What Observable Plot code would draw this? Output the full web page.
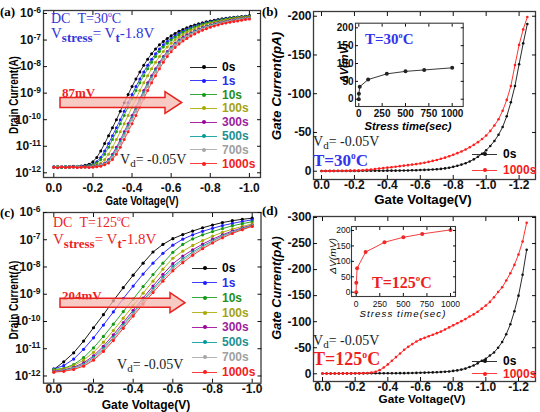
<!DOCTYPE html>
<html>
<head>
<meta charset="utf-8">
<script src="https://cdn.jsdelivr.net/npm/d3@7"></script>
<script src="https://cdn.jsdelivr.net/npm/@observablehq/plot@0.6"></script>
<style>
  html,body{margin:0;padding:0;background:#fff;}
  #fig{position:relative;width:540px;height:412px;overflow:hidden;background:#fff;}
  #fig svg{position:absolute;}
  .t{position:absolute;white-space:nowrap;line-height:1;}
  .serif{font-family:"Liberation Serif","Times New Roman",serif;}
  .sans{font-family:"Liberation Sans",Arial,sans-serif;font-weight:bold;}
  .sb{position:relative;top:0.3em;}
  .sp{font-size:0.55em;position:relative;top:-0.75em;}
</style>
</head>
<body>
<div id="fig"></div>
<script>
// ---------------- DATA ----------------
const stressLabels = ["0s","1s","10s","100s","300s","500s","700s","1000s"];
const seriesColors = ["#000000","#1c1cff","#139a13","#a8a800","#9a009a","#009a9a","#a6a6a6","#ff1c1c"];
const legendColors = ["#000000","#2b2bf0","#1f8f1f","#a3a314","#9b1f9b","#1f8f8f","#a0a0a0","#f52020"];

// Panel (a): gate voltage (V) and log10 drain current (A), T = 30 C
const vgA = [0,-0.02,-0.04,-0.06,-0.08,-0.1,-0.12,-0.14,-0.16,-0.18,-0.2,-0.22,-0.24,-0.26,-0.28,-0.3,-0.32,-0.34,-0.36,-0.38,-0.4,-0.42,-0.44,-0.46,-0.48,-0.5,-0.52,-0.54,-0.56,-0.58,-0.6,-0.62,-0.64,-0.66,-0.68,-0.7,-0.72,-0.74,-0.76,-0.78,-0.8,-0.82,-0.84,-0.86,-0.88,-0.9,-0.92,-0.94,-0.96,-0.98,-1];
const logIdA_0s = [-11.78,-11.76,-11.79,-11.77,-11.76,-11.75,-11.76,-11.74,-11.72,-11.68,-11.58,-11.42,-11.18,-10.90,-10.60,-10.30,-10.00,-9.68,-9.36,-9.05,-8.75,-8.47,-8.20,-7.95,-7.72,-7.52,-7.34,-7.18,-7.05,-6.94,-6.84,-6.75,-6.67,-6.60,-6.54,-6.48,-6.43,-6.39,-6.35,-6.31,-6.28,-6.25,-6.23,-6.20,-6.18,-6.16,-6.14,-6.13,-6.11,-6.10,-6.08];
const logIdA_1s = [-11.77,-11.79,-11.77,-11.78,-11.76,-11.77,-11.75,-11.76,-11.74,-11.72,-11.68,-11.58,-11.42,-11.18,-10.90,-10.60,-10.30,-10.00,-9.68,-9.36,-9.05,-8.75,-8.47,-8.20,-7.95,-7.72,-7.52,-7.34,-7.18,-7.05,-6.94,-6.84,-6.75,-6.67,-6.60,-6.54,-6.48,-6.43,-6.39,-6.35,-6.31,-6.28,-6.25,-6.23,-6.20,-6.18,-6.16,-6.14,-6.13,-6.11,-6.10];
const logIdA_10s = [-11.78,-11.77,-11.79,-11.76,-11.78,-11.77,-11.76,-11.77,-11.75,-11.73,-11.70,-11.63,-11.50,-11.30,-11.04,-10.75,-10.45,-10.15,-9.84,-9.52,-9.21,-8.90,-8.61,-8.34,-8.08,-7.84,-7.62,-7.43,-7.26,-7.12,-7.00,-6.89,-6.80,-6.71,-6.64,-6.57,-6.51,-6.46,-6.41,-6.37,-6.33,-6.30,-6.27,-6.24,-6.22,-6.19,-6.17,-6.15,-6.14,-6.12,-6.11];
const logIdA_100s = [-11.79,-11.77,-11.78,-11.80,-11.77,-11.78,-11.76,-11.78,-11.77,-11.75,-11.73,-11.70,-11.63,-11.50,-11.30,-11.04,-10.75,-10.45,-10.15,-9.84,-9.52,-9.21,-8.90,-8.61,-8.34,-8.08,-7.84,-7.62,-7.43,-7.26,-7.12,-7.00,-6.89,-6.80,-6.71,-6.64,-6.57,-6.51,-6.46,-6.41,-6.37,-6.33,-6.30,-6.27,-6.24,-6.22,-6.19,-6.17,-6.15,-6.14,-6.12];
const logIdA_300s = [-11.78,-11.80,-11.77,-11.79,-11.78,-11.77,-11.79,-11.77,-11.78,-11.76,-11.75,-11.73,-11.70,-11.63,-11.50,-11.30,-11.04,-10.75,-10.45,-10.15,-9.84,-9.52,-9.21,-8.90,-8.61,-8.34,-8.08,-7.84,-7.62,-7.43,-7.26,-7.12,-7.00,-6.89,-6.80,-6.73,-6.66,-6.59,-6.53,-6.48,-6.43,-6.39,-6.35,-6.32,-6.29,-6.26,-6.24,-6.21,-6.19,-6.17,-6.16];
const logIdA_500s = [-11.79,-11.78,-11.80,-11.77,-11.79,-11.78,-11.76,-11.78,-11.79,-11.77,-11.76,-11.74,-11.71,-11.66,-11.54,-11.36,-11.11,-10.83,-10.53,-10.23,-9.92,-9.60,-9.29,-8.98,-8.68,-8.41,-8.14,-7.90,-7.67,-7.48,-7.30,-7.16,-7.04,-6.94,-6.85,-6.76,-6.69,-6.62,-6.56,-6.50,-6.45,-6.41,-6.37,-6.34,-6.31,-6.28,-6.26,-6.23,-6.21,-6.19,-6.17];
const logIdA_700s = [-11.78,-11.79,-11.77,-11.80,-11.78,-11.79,-11.77,-11.78,-11.80,-11.78,-11.77,-11.76,-11.72,-11.68,-11.58,-11.42,-11.18,-10.90,-10.60,-10.30,-10.00,-9.68,-9.36,-9.05,-8.75,-8.47,-8.20,-7.95,-7.72,-7.52,-7.34,-7.19,-7.07,-6.96,-6.87,-6.79,-6.71,-6.64,-6.58,-6.52,-6.47,-6.43,-6.39,-6.35,-6.32,-6.29,-6.27,-6.24,-6.22,-6.20,-6.18];
const logIdA_1000s = [-11.79,-11.81,-11.78,-11.80,-11.79,-11.78,-11.80,-11.79,-11.78,-11.80,-11.79,-11.77,-11.75,-11.70,-11.63,-11.50,-11.30,-11.04,-10.75,-10.45,-10.15,-9.84,-9.52,-9.21,-8.90,-8.61,-8.34,-8.08,-7.84,-7.62,-7.44,-7.28,-7.15,-7.04,-6.94,-6.85,-6.77,-6.70,-6.63,-6.57,-6.52,-6.47,-6.43,-6.39,-6.36,-6.33,-6.30,-6.28,-6.25,-6.23,-6.21];

// Panel (c): gate voltage (V) and log10 drain current (A), T = 125 C
const vgC = [0,-0.05,-0.1,-0.15,-0.2,-0.25,-0.3,-0.35,-0.4,-0.45,-0.5,-0.55,-0.6,-0.65,-0.7,-0.75,-0.8,-0.85,-0.9,-0.95,-1];
const logIdC_0s = [-11.76,-11.48,-11.15,-10.72,-10.23,-9.75,-9.24,-8.76,-8.30,-7.86,-7.45,-7.17,-6.96,-6.81,-6.68,-6.56,-6.46,-6.37,-6.30,-6.25,-6.21];
const logIdC_1s = [-11.74,-11.62,-11.38,-11.02,-10.60,-10.13,-9.65,-9.16,-8.70,-8.26,-7.86,-7.50,-7.20,-6.98,-6.82,-6.69,-6.58,-6.48,-6.40,-6.33,-6.27];
const logIdC_10s = [-11.76,-11.72,-11.58,-11.33,-10.97,-10.55,-10.10,-9.64,-9.18,-8.72,-8.28,-7.86,-7.46,-7.17,-6.97,-6.82,-6.70,-6.59,-6.49,-6.41,-6.34];
const logIdC_100s = [-11.79,-11.74,-11.62,-11.42,-11.13,-10.76,-10.33,-9.88,-9.42,-8.96,-8.52,-8.08,-7.68,-7.42,-7.21,-7.03,-6.87,-6.73,-6.61,-6.51,-6.42];
const logIdC_300s = [-11.82,-11.78,-11.68,-11.52,-11.26,-10.91,-10.49,-10.04,-9.59,-9.14,-8.70,-8.27,-7.88,-7.60,-7.37,-7.16,-6.98,-6.82,-6.68,-6.56,-6.46];
const logIdC_500s = [-11.84,-11.80,-11.71,-11.57,-11.32,-10.99,-10.58,-10.13,-9.68,-9.23,-8.80,-8.38,-7.99,-7.70,-7.45,-7.23,-7.04,-6.86,-6.72,-6.59,-6.48];
const logIdC_700s = [-11.85,-11.81,-11.73,-11.60,-11.37,-11.04,-10.63,-10.18,-9.73,-9.29,-8.86,-8.44,-8.06,-7.76,-7.51,-7.28,-7.08,-6.89,-6.74,-6.61,-6.49];
const logIdC_1000s = [-11.86,-11.83,-11.76,-11.64,-11.42,-11.10,-10.70,-10.25,-9.80,-9.36,-8.94,-8.52,-8.14,-7.84,-7.57,-7.33,-7.12,-6.93,-6.77,-6.63,-6.51];

// Panels (b) and (d): gate voltage (V) and gate current (pA)
const vgBD = [0,-0.025,-0.05,-0.075,-0.1,-0.125,-0.15,-0.175,-0.2,-0.225,-0.25,-0.275,-0.3,-0.325,-0.35,-0.375,-0.4,-0.425,-0.45,-0.475,-0.5,-0.525,-0.55,-0.575,-0.6,-0.625,-0.65,-0.675,-0.7,-0.725,-0.75,-0.775,-0.8,-0.825,-0.85,-0.875,-0.9,-0.925,-0.95,-0.975,-1,-1.025,-1.05,-1.075,-1.1,-1.125,-1.15,-1.175,-1.2,-1.225,-1.25];
const igB_0s = [-0.2,-0.2,-0.2,-0.3,-0.3,-0.3,-0.3,-0.4,-0.4,-0.4,-0.5,-0.5,-0.5,-0.6,-0.6,-0.6,-0.7,-0.7,-0.7,-0.8,-0.9,-1.0,-1.2,-1.3,-1.5,-1.7,-1.9,-2.2,-2.5,-3.0,-3.6,-4.5,-5.6,-7.0,-8.5,-10.3,-12.6,-15.3,-18.6,-22.5,-27,-32.5,-39,-47,-57,-71,-89,-110,-138,-165,-190];
const igB_1000s = [-0.3,-0.3,-0.4,-0.4,-0.5,-0.5,-0.6,-0.7,-0.8,-1.0,-1.3,-1.7,-2.2,-2.8,-3.4,-4.0,-4.6,-5.2,-5.8,-6.5,-7.2,-7.8,-8.5,-9.2,-10,-11,-12,-13.3,-14.5,-16,-17.5,-19.3,-21.2,-23.3,-25.5,-28,-31,-34,-37.5,-41.5,-46,-52,-59,-67,-78,-92,-110,-137,-163,-183,-199];
const igD_0s = [-0.5,-0.5,-0.6,-0.6,-0.6,-0.7,-0.7,-0.7,-0.8,-0.8,-0.8,-0.9,-0.9,-0.9,-1.0,-1.0,-1.0,-1.1,-1.1,-1.2,-1.2,-1.3,-1.5,-1.7,-2.0,-2.2,-2.5,-2.7,-3.0,-3.5,-4.0,-4.5,-5.5,-6.5,-8.0,-10,-13,-16,-20,-25,-29,-35,-41,-50,-61,-76,-95,-120,-150,-190,-238];
const igD_1000s = [-0.5,-0.5,-0.5,-0.6,-0.6,-0.7,-0.7,-0.8,-0.9,-1.0,-1.2,-1.6,-2.3,-4,-7,-12,-18,-25,-32,-39,-46,-52,-57,-62,-66,-69,-72,-75,-78,-81,-85,-89,-93,-97,-101,-105,-110,-114,-119,-125,-131,-138,-147,-157,-166,-179,-193,-209,-229,-254,-290];

// Insets: threshold voltage shift (mV) vs stress time (s)
const stressTime = [0,1,10,100,300,500,700,1000];
const dVth30 = [0,15,35,55,71,78,82,88];
const dVth125 = [0,31,78,130,162,178,189,202];

// Tick values
const xTicksIV = [0,-0.2,-0.4,-0.6,-0.8,-1.0];
const xTicksIG = [0,-0.2,-0.4,-0.6,-0.8,-1.0,-1.2];
const yTicksLog = [1e-12,1e-11,1e-10,1e-9,1e-8,1e-7,1e-6];
const yTicksB = [0,-50,-100,-150,-200];
const yTicksD = [0,-50,-100,-150,-200,-250,-300];
const insetXTicks = [0,250,500,750,1000];
const insetYTicks = [0,50,100,150,200];

// ---------------- DRAWING ----------------
const fig = document.getElementById("fig");
const NS = "http://www.w3.org/2000/svg";

function supify(svg, expSize) {
  svg.querySelectorAll("text").forEach(t => {
    const s = t.textContent;
    if (s.includes("^")) {
      const [b, e] = s.split("^");
      t.textContent = "";
      const t1 = document.createElementNS(NS, "tspan"); t1.textContent = b;
      const t2 = document.createElementNS(NS, "tspan"); t2.textContent = e;
      t2.setAttribute("dy", "-0.5em"); t2.setAttribute("font-size", expSize);
      t.append(t1, t2);
    }
  });
}

function panel(o) {
  const marks = [Plot.frame({stroke: "#3a3a3a", strokeWidth: o.fw || 1.3})];
  o.series.forEach((vals, k) => {
    const rows = vals.map((v, i) => ({x: o.xs[i], y: o.log ? 10 ** v : v}));
    marks.push(Plot.line(rows, {x: "x", y: "y", stroke: o.colors[k], strokeWidth: o.lw}));
    marks.push(Plot.dot(rows, {x: "x", y: "y", fill: o.colors[k], r: o.r}));
  });
  marks.push(
    Plot.axisX({ticks: o.xTicks, tickFormat: o.xFmt, tickSize: -o.ts, tickPadding: o.xPad, label: null}),
    Plot.axisX({ticks: o.xTicks, anchor: "top", tickSize: -o.ts, tickFormat: () => "", label: null}),
    Plot.axisY({ticks: o.yTicks, tickFormat: o.yFmt, tickSize: -o.ts, tickPadding: o.yPad, label: null}),
    Plot.axisY({ticks: o.yTicks, anchor: "right", tickSize: -o.ts, tickFormat: () => "", label: null})
  );
  const svg = Plot.plot({
    width: o.w, height: o.h,
    marginLeft: o.m[0], marginTop: o.m[1], marginRight: o.m[2], marginBottom: o.m[3],
    x: {domain: o.xd},
    y: o.log ? {type: "log", domain: o.yd} : {domain: o.yd},
    style: {fontFamily: "'Liberation Sans', Arial, sans-serif", fontSize: o.fs + "px", fontWeight: o.fwt || "bold", color: "#111", background: "transparent", overflow: "visible"},
    marks
  });
  if (o.log) supify(svg, o.expSize || "8.5px");
  svg.style.left = o.left + "px";
  svg.style.top = o.top + "px";
  fig.appendChild(svg);
  return svg;
}

const fmt1 = d => d.toFixed(1);
const fmtLog = d => "10^" + Math.round(Math.log10(d));
const fmtInt = d => String(d);

// (a)  frame: x 43-260, y 10-177
panel({left: 0, top: 0, w: 270, h: 206, m: [43, 10, 10, 29],
  xs: vgA, series: [logIdA_0s, logIdA_1s, logIdA_10s, logIdA_100s, logIdA_300s, logIdA_500s, logIdA_700s, logIdA_1000s],
  colors: seriesColors, log: true, lw: 0.8, r: 1.5, ts: 4, fs: 12,
  xd: [0.0526, -1.0567], yd: [10 ** -12.177, 10 ** -5.887],
  xTicks: xTicksIV, xFmt: fmt1, xPad: 10, yTicks: yTicksLog, yFmt: fmtLog, yPad: 6.5});
// (b)  frame: x 313-535, y 11-179
panel({left: 270, top: 0, w: 270, h: 206, m: [43, 11, 5, 27],
  xs: vgBD, series: [igB_0s, igB_1000s], colors: ["#111111", "#ff1c1c"], lw: 0.9, r: 1.3, ts: 4, fs: 12,
  xd: [0.0487, -1.2996], yd: [10.7, -206.1],
  xTicks: xTicksIG, xFmt: fmt1, xPad: 5, yTicks: yTicksB, yFmt: fmtInt, yPad: 6});
// (c)  frame: x 43-260.5, y 212-382.7
panel({left: 0, top: 206, w: 270, h: 206, m: [43, 6, 9.5, 29.3],
  xs: vgC, series: [logIdC_0s, logIdC_1s, logIdC_10s, logIdC_100s, logIdC_300s, logIdC_500s, logIdC_700s, logIdC_1000s],
  colors: seriesColors, log: true, lw: 0.9, r: 1.6, ts: 4, fs: 12,
  xd: [0.052, -1.0444], yd: [10 ** -12.265, 10 ** -6.0],
  xTicks: xTicksIV, xFmt: fmt1, xPad: 5.5, yTicks: yTicksLog, yFmt: fmtLog, yPad: 7});
// (d)  frame: x 313-535, y 216-381
panel({left: 270, top: 206, w: 270, h: 206, m: [43, 10, 5, 31],
  xs: vgBD, series: [igD_0s, igD_1000s], colors: ["#111111", "#ff1c1c"], lw: 0.9, r: 1.3, ts: 4, fs: 12,
  xd: [0.0551, -1.304], yd: [14.8, -301.9],
  xTicks: xTicksIG, xFmt: fmt1, xPad: 4.5, yTicks: yTicksD, yFmt: fmtInt, yPad: 6});
// inset (b)  frame: x 355-462.7, y 22.7-106
panel({left: 325, top: 15, w: 145, h: 120, m: [30, 7.7, 7.3, 29],
  xs: stressTime, series: [dVth30], colors: ["#222222"], lw: 0.9, r: 2, ts: 3, fs: 10, fw: 1.1,
  xd: [-35.3, 1117.8], yd: [-20.4, 212.9],
  xTicks: insetXTicks, xFmt: fmtInt, xPad: 6, yTicks: insetYTicks, yFmt: fmtInt, yPad: 5});
// inset (d)  frame: x 351-455, y 226-296
panel({left: 322, top: 220, w: 145, h: 100, m: [29, 6, 12, 24],
  xs: stressTime, series: [dVth125], colors: ["#f02828"], lw: 0.9, r: 2, ts: 3, fs: 8.5, fwt: "normal", fw: 1.1,
  xd: [-49.8, 1053], yd: [-13.9, 213],
  xTicks: insetXTicks, xFmt: fmtInt, xPad: 7, yTicks: insetYTicks, yFmt: fmtInt, yPad: 4});

// ---------------- ANNOTATIONS ----------------
function txt(html, x, y, cls, css = {}, center = false) {
  const d = document.createElement("div");
  d.className = "t " + cls;
  d.innerHTML = html;
  Object.assign(d.style, css);
  d.style.left = x + "px"; d.style.top = y + "px";
  fig.appendChild(d);
  d.style.transform = center ? "translate(-50%,-50%)" : "translateY(-50%)";
  return d;
}
function title(html, cx, cy, cls, css, length, rotate) {
  const d = txt(html, cx, cy, cls, css, true);
  const k = length / d.offsetWidth;
  d.style.transform = "translate(-50%,-50%)" + (rotate ? " rotate(-90deg)" : "") + " scaleX(" + k + ")";
  return d;
}
const blue = "#3535d8", red = "#ee1f1f";

// panel labels
txt("(a)", 0, 11, "serif", {fontWeight: "bold", fontSize: "13px"});
txt("(b)", 262, 11, "serif", {fontWeight: "bold", fontSize: "13px"});
txt("(c)", 0, 212, "serif", {fontWeight: "bold", fontSize: "13px"});
txt("(d)", 262, 210, "serif", {fontWeight: "bold", fontSize: "13px"});

// axis titles
title("Gate Voltage(V)", 142, 200.5, "sans", {fontSize: "12px"}, 73, false);
title("Drain Current(A)", 12.5, 95, "sans", {fontSize: "13px"}, 78, true);
title("Gate Voltage(V)", 423, 200, "sans", {fontSize: "12px"}, 97, false);
title("Gate Current(pA)", 277, 86, "sans", {fontSize: "12.5px", fontStyle: "italic"}, 108, true);
title("Gate Voltage(V)", 146, 405, "sans", {fontSize: "12px"}, 88, false);
title("Drain Current(A)", 12.7, 300, "sans", {fontSize: "13px"}, 79, true);
title("Gate Voltage(V)", 421.7, 399.5, "sans", {fontSize: "11.5px"}, 87, false);
title("Gate Current(pA)", 277, 287.5, "sans", {fontSize: "12.5px", fontStyle: "italic"}, 103, true);
// inset titles
title("Stress time(sec)", 408, 125.7, "sans", {fontSize: "11px", fontStyle: "italic"}, 87, false);
title("\u0394V(mV)", 345, 63, "sans", {fontSize: "10px", fontStyle: "italic"}, 40, true);
title("Stress time(sec)", 403, 314, "sans", {fontSize: "9px", fontStyle: "italic", fontWeight: "normal", letterSpacing: "1px"}, 87, false);
title("\u0394V(mV)", 333, 255.5, "sans", {fontSize: "8.5px", fontStyle: "italic", fontWeight: "normal"}, 36, true);

// (a) annotations
txt("DC&nbsp;&nbsp;T=30<span class='sp'>o</span>C", 51, 18.5, "serif", {fontSize: "14px", color: blue});
txt("V<span class='sb' style='font-size:13px;font-weight:bold'>stress</span>= V<span class='sb' style='font-size:13px;font-weight:bold'>t</span>-1.8V", 51, 33, "serif", {fontSize: "15px", color: blue});
txt("87mV", 62, 92, "serif", {fontSize: "13px", color: red, fontWeight: "bold"});
txt("V<span class='sb' style='font-size:11px'>d</span>= -0.05V", 120, 160, "serif", {fontSize: "14px", color: "#222"});
// (b) annotations
txt("T=30<span class='sp'>o</span>C", 365, 39, "serif", {fontSize: "15px", color: "#3333ee", fontWeight: "bold"});
txt("V<span class='sb' style='font-size:11px'>d</span>= -0.05V", 313, 142, "serif", {fontSize: "14px", color: "#222"});
txt("T=30<span class='sp'>o</span>C", 313, 160, "serif", {fontSize: "17px", color: "#3333ee", fontWeight: "bold"});
// (c) annotations
txt("DC&nbsp;&nbsp;T=125<span class='sp'>o</span>C", 53, 222.5, "serif", {fontSize: "14px", color: red});
txt("V<span class='sb' style='font-size:13px;font-weight:bold'>stress</span>= V<span class='sb' style='font-size:13px;font-weight:bold'>t</span>-1.8V", 53, 239, "serif", {fontSize: "15px", color: red});
txt("204mV", 62, 295, "serif", {fontSize: "13px", color: red, fontWeight: "bold"});
txt("V<span class='sb' style='font-size:11px'>d</span>= -0.05V", 117, 365, "serif", {fontSize: "14px", color: "#222"});
// (d) annotations
txt("T=125<span class='sp'>o</span>C", 372, 283, "serif", {fontSize: "16px", color: red, fontWeight: "bold"});
txt("V<span class='sb' style='font-size:11px'>d</span>= -0.05V", 313, 340.5, "serif", {fontSize: "14px", color: "#222"});
txt("T=125<span class='sp'>o</span>C", 313, 359, "serif", {fontSize: "18px", color: red, fontWeight: "bold"});

// legends
function legendRow(x1, x2, xl, cy, col, tcol, label) {
  const ln = document.createElement("div");
  ln.style.cssText = `position:absolute;left:${x1}px;top:${cy - 0.5}px;width:${x2 - x1}px;height:0;border-top:1px solid ${col};opacity:0.85`;
  fig.appendChild(ln);
  const dt = document.createElement("div");
  dt.style.cssText = `position:absolute;left:${(x1 + x2) / 2 - 2}px;top:${cy - 2}px;width:4px;height:4px;border-radius:50%;background:${col}`;
  fig.appendChild(dt);
  txt(label, xl, cy, "sans", {fontSize: "12px", color: tcol});
}
stressLabels.forEach((s, i) => legendRow(190, 217, 222, 67 + 13.8 * i, seriesColors[i], legendColors[i], s));
stressLabels.forEach((s, i) => legendRow(192, 217, 222, 268 + 14.86 * i, seriesColors[i], legendColors[i], s));
legendRow(472, 497, 503, 154.3, "#111", "#000", "0s");
legendRow(472, 497, 503, 170, "#ff1c1c", "#f52020", "1000s");
legendRow(472, 497, 503, 361, "#111", "#000", "0s");
legendRow(472, 497, 503, 373.7, "#ff1c1c", "#f52020", "1000s");

// block arrows (annotation shapes)
function blockArrow(x0, xb, xh, cy, hb, hh) {
  const s = document.createElementNS(NS, "svg");
  s.setAttribute("width", 540); s.setAttribute("height", 412);
  s.style.left = "0px"; s.style.top = "0px"; s.style.pointerEvents = "none";
  const p = document.createElementNS(NS, "polygon");
  const pts = [[x0, cy - hb], [xb, cy - hb], [xb, cy - hh], [xh, cy], [xb, cy + hh], [xb, cy + hb], [x0, cy + hb]];
  p.setAttribute("points", pts.map(q => q.join(",")).join(" "));
  p.setAttribute("fill", "#f4b8b0"); p.setAttribute("fill-opacity", "0.75");
  p.setAttribute("stroke", "#e8231f"); p.setAttribute("stroke-width", "1.5");
  s.appendChild(p);
  fig.appendChild(s);
}
blockArrow(60, 165, 181.7, 102.5, 5, 10.8);
blockArrow(60, 170, 185, 302.7, 4.5, 10);
</script>
</body>
</html>
